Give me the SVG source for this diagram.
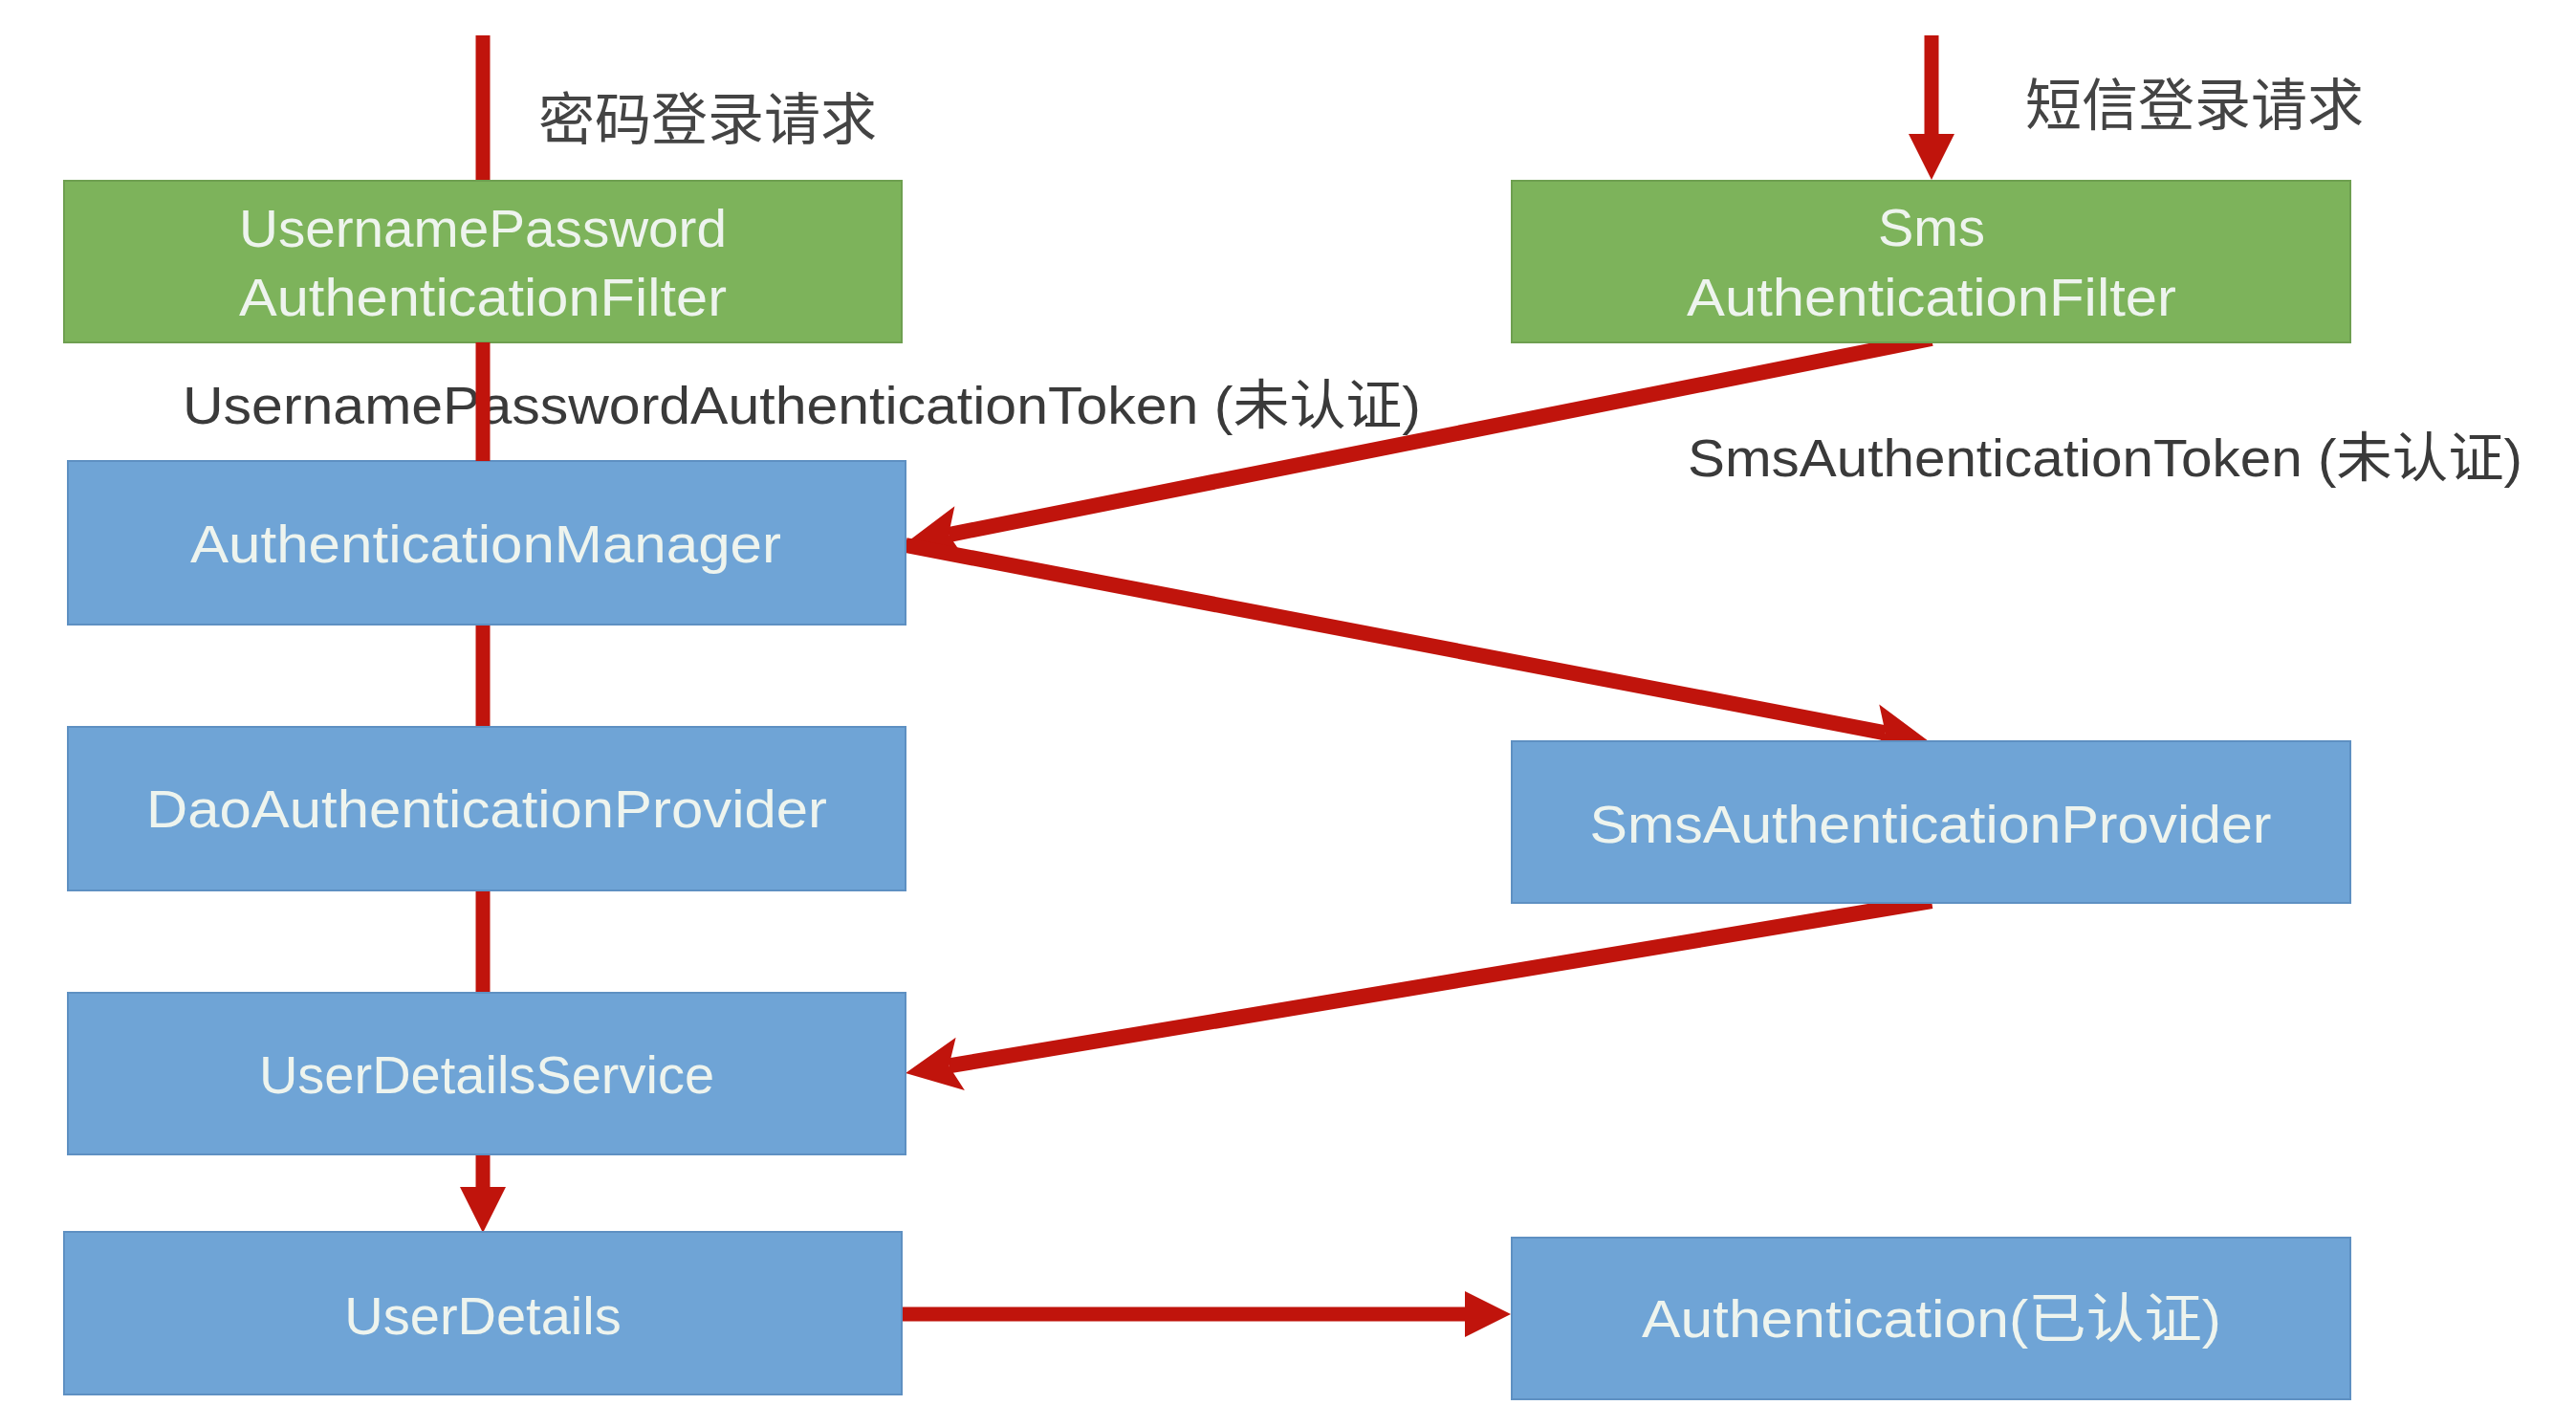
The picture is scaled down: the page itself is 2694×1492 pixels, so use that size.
<svg xmlns="http://www.w3.org/2000/svg" width="2694" height="1492" viewBox="0 0 2694 1492">
<style>
  .green { fill: #7DB35B; stroke: #6E9F50; stroke-width: 2; }
  .blue { fill: #6FA4D6; stroke: #5E90C2; stroke-width: 2; }
  .boxtext { font-family: "Liberation Sans", "Noto Sans CJK SC", sans-serif; font-size: 56px; fill: #EEF4EE; text-anchor: middle; }
  .label { font-family: "Liberation Sans", "Noto Sans CJK SC", sans-serif; font-size: 56px; fill: #3A3A3A; }
  .cjk { font-family: "Noto Sans CJK SC", sans-serif; font-size: 59px; fill: #444444; }
  .wire { stroke: #C0140C; stroke-width: 15; fill: none; }
  .diag { stroke-width: 16; }
</style>
<defs>
  <marker id="tri" markerUnits="userSpaceOnUse" orient="auto" refX="2" refY="0" markerWidth="60" markerHeight="60" viewBox="0 -30 60 60" overflow="visible">
    <path d="M0,-24 L48,0 L0,24 Z" fill="#C0140C"/>
  </marker>
  <marker id="notch" markerUnits="userSpaceOnUse" orient="auto" refX="12" refY="0" markerWidth="70" markerHeight="70" viewBox="0 -35 70 70" overflow="visible">
    <path d="M0,-28 L58,0 L0,28 L12,0 Z" fill="#C0140C"/>
  </marker>
</defs>
<rect x="0" y="0" width="2694" height="1492" fill="#FFFFFF"/>

<g id="label-pwd-request"><text class="cjk" x="563" y="146">密码登录请求</text></g>
<g id="label-sms-request"><text class="cjk" x="2118" y="131">短信登录请求</text></g>
<g id="label-up-token"><text class="label" x="191" y="443" textLength="1295" lengthAdjust="spacingAndGlyphs">UsernamePasswordAuthenticationToken (未认证)</text></g>
<g id="label-sms-token"><text class="label" x="1765" y="498" textLength="873" lengthAdjust="spacingAndGlyphs">SmsAuthenticationToken (未认证)</text></g>

<g id="connectors">
  <line class="wire" x1="505" y1="37" x2="505" y2="190"/>
  <line class="wire" x1="505" y1="652" x2="505" y2="761"/>
  <line class="wire" x1="505" y1="930" x2="505" y2="1039"/>
  <line class="wire" x1="505" y1="1207" x2="505" y2="1243" marker-end="url(#tri)"/>
  <line class="wire" x1="2020" y1="37" x2="2020" y2="142" marker-end="url(#tri)"/>
  <line class="wire diag" x1="2020" y1="354" x2="992.1" y2="559.1" marker-end="url(#notch)"/>
  <line class="wire diag" x1="947" y1="570" x2="1971.8" y2="766.3" marker-end="url(#notch)"/>
  <line class="wire diag" x1="2020" y1="942" x2="992.4" y2="1114.4" marker-end="url(#notch)"/>
  <line class="wire" x1="943" y1="1374" x2="1534" y2="1374" marker-end="url(#tri)"/>
</g>

<g id="node-up-filter">
  <rect class="green" x="67" y="189" width="876" height="169"/>
  <text class="boxtext" x="505" y="258" textLength="510" lengthAdjust="spacingAndGlyphs">UsernamePassword</text>
  <text class="boxtext" x="505" y="330" textLength="510" lengthAdjust="spacingAndGlyphs">AuthenticationFilter</text>
</g>
<g id="node-sms-filter">
  <rect class="green" x="1581" y="189" width="877" height="169"/>
  <text class="boxtext" x="2020" y="257">Sms</text>
  <text class="boxtext" x="2020" y="330" textLength="512" lengthAdjust="spacingAndGlyphs">AuthenticationFilter</text>
</g>
<g id="node-auth-manager">
  <rect class="blue" x="71" y="482" width="876" height="171"/>
  <text class="boxtext" x="508" y="588" textLength="618" lengthAdjust="spacingAndGlyphs">AuthenticationManager</text>
</g>
<g id="node-dao-provider">
  <rect class="blue" x="71" y="760" width="876" height="171"/>
  <text class="boxtext" x="509" y="865" textLength="712" lengthAdjust="spacingAndGlyphs">DaoAuthenticationProvider</text>
</g>
<g id="node-sms-provider">
  <rect class="blue" x="1581" y="775" width="877" height="169"/>
  <text class="boxtext" x="2019" y="881" textLength="713" lengthAdjust="spacingAndGlyphs">SmsAuthenticationProvider</text>
</g>
<g id="node-uds">
  <rect class="blue" x="71" y="1038" width="876" height="169"/>
  <text class="boxtext" x="509" y="1143">UserDetailsService</text>
</g>
<g id="node-user-details">
  <rect class="blue" x="67" y="1288" width="876" height="170"/>
  <text class="boxtext" x="505" y="1395">UserDetails</text>
</g>
<g id="node-authentication">
  <rect class="blue" x="1581" y="1294" width="877" height="169"/>
  <text class="boxtext" x="2020" y="1398" textLength="606" lengthAdjust="spacingAndGlyphs">Authentication(已认证)</text>
</g>

<g id="connector-overlay">
  <line class="wire" x1="505" y1="358" x2="505" y2="482"/>
</g>
</svg>
